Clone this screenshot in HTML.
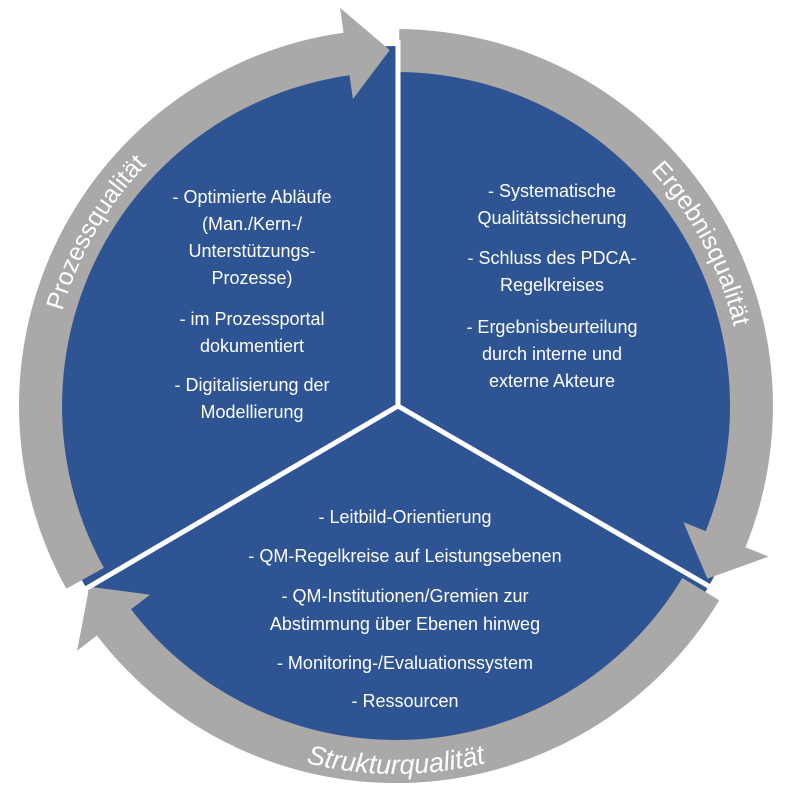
<!DOCTYPE html>
<html><head><meta charset="utf-8"><style>
html,body{margin:0;padding:0;background:#fff;}
svg{display:block;}
.t{font-family:"Liberation Sans",sans-serif;font-size:18px;fill:#fff;text-anchor:middle;}
.r{font-family:"Liberation Sans",sans-serif;font-size:25px;fill:#fff;text-anchor:middle;}
</style></head><body>
<svg id="s" width="801" height="800" viewBox="0 0 801 800" xmlns="http://www.w3.org/2000/svg">
<circle cx="397" cy="406" r="360" fill="#2E5494"/>
<g id="arrows" fill="#ABA8A8"></g>
<g stroke="#fff" stroke-width="5">
<line x1="398" y1="406" x2="398" y2="40"/>
<line x1="398" y1="406" x2="712" y2="588"/>
<line x1="398" y1="406" x2="70" y2="598"/>
</g>
<defs>
<path id="pL" d=""/><path id="pR" d=""/><path id="pB" d=""/>
</defs>
<text class="r"><textPath href="#pL" startOffset="50%">Prozessqualität</textPath></text>
<text class="r"><textPath href="#pR" startOffset="50%">Ergebnisqualität</textPath></text>
<text class="r" font-style="italic" style="font-size:27px"><textPath href="#pB" startOffset="50%">Strukturqualität</textPath></text>
<g class="t">
<text x="252" y="203">- Optimierte Abläufe</text>
<text x="252" y="230">(Man./Kern-/</text>
<text x="252" y="257">Unterstützungs-</text>
<text x="252" y="284">Prozesse)</text>
<text x="252" y="325">- im Prozessportal</text>
<text x="252" y="352">dokumentiert</text>
<text x="252" y="391">- Digitalisierung der</text>
<text x="252" y="418">Modellierung</text>
<text x="552" y="197">- Systematische</text>
<text x="552" y="224">Qualitätssicherung</text>
<text x="552" y="264">- Schluss des PDCA-</text>
<text x="552" y="291">Regelkreises</text>
<text x="552" y="333">- Ergebnisbeurteilung</text>
<text x="552" y="360">durch interne und</text>
<text x="552" y="387">externe Akteure</text>
<text x="405" y="523">- Leitbild-Orientierung</text>
<text x="405" y="562">- QM-Regelkreise auf Leistungsebenen</text>
<text x="405" y="602">- QM-Institutionen/Gremien zur</text>
<text x="405" y="630">Abstimmung über Ebenen hinweg</text>
<text x="405" y="669">- Monitoring-/Evaluationssystem</text>
<text x="405" y="707">- Ressourcen</text>
</g>
</svg>
<script>
var cx=396,cy=406;
function P(a,r){var t=a*Math.PI/180;return (cx+r*Math.cos(t)).toFixed(1)+","+(cy+r*Math.sin(t)).toFixed(1);}
function arrow(a0,at){
 var ab=at-7,ri=334,ro=377,hi=310,ho=402,tr=356;
 var large=(ab-a0)>180?1:0;
 return "M"+P(a0,ro)+" A"+ro+","+ro+" 0 "+large+" 1 "+P(ab,ro)+" L"+P(ab,ho)+" L"+P(at,tr)+" L"+P(ab,hi)+" L"+P(ab,ri)+" A"+ri+","+ri+" 0 "+large+" 0 "+P(a0,ri)+" Z";
}
var g=document.getElementById("arrows");
[[151,269],[270.5,389],[31,149.5]].forEach(function(s){
 var p=document.createElementNS("http://www.w3.org/2000/svg","path");
 p.setAttribute("d",arrow(s[0],s[1]));g.appendChild(p);
});
function arc(id,a0,a1,r,sw){document.getElementById(id).setAttribute("d","M"+P(a0,r)+" A"+r+","+r+" 0 0 "+sw+" "+P(a1,r));}
arc("pL",170,250,347,1);
arc("pR",-68,12,347,1);
arc("pB",125,55,368,0);
</script>
</body></html>
